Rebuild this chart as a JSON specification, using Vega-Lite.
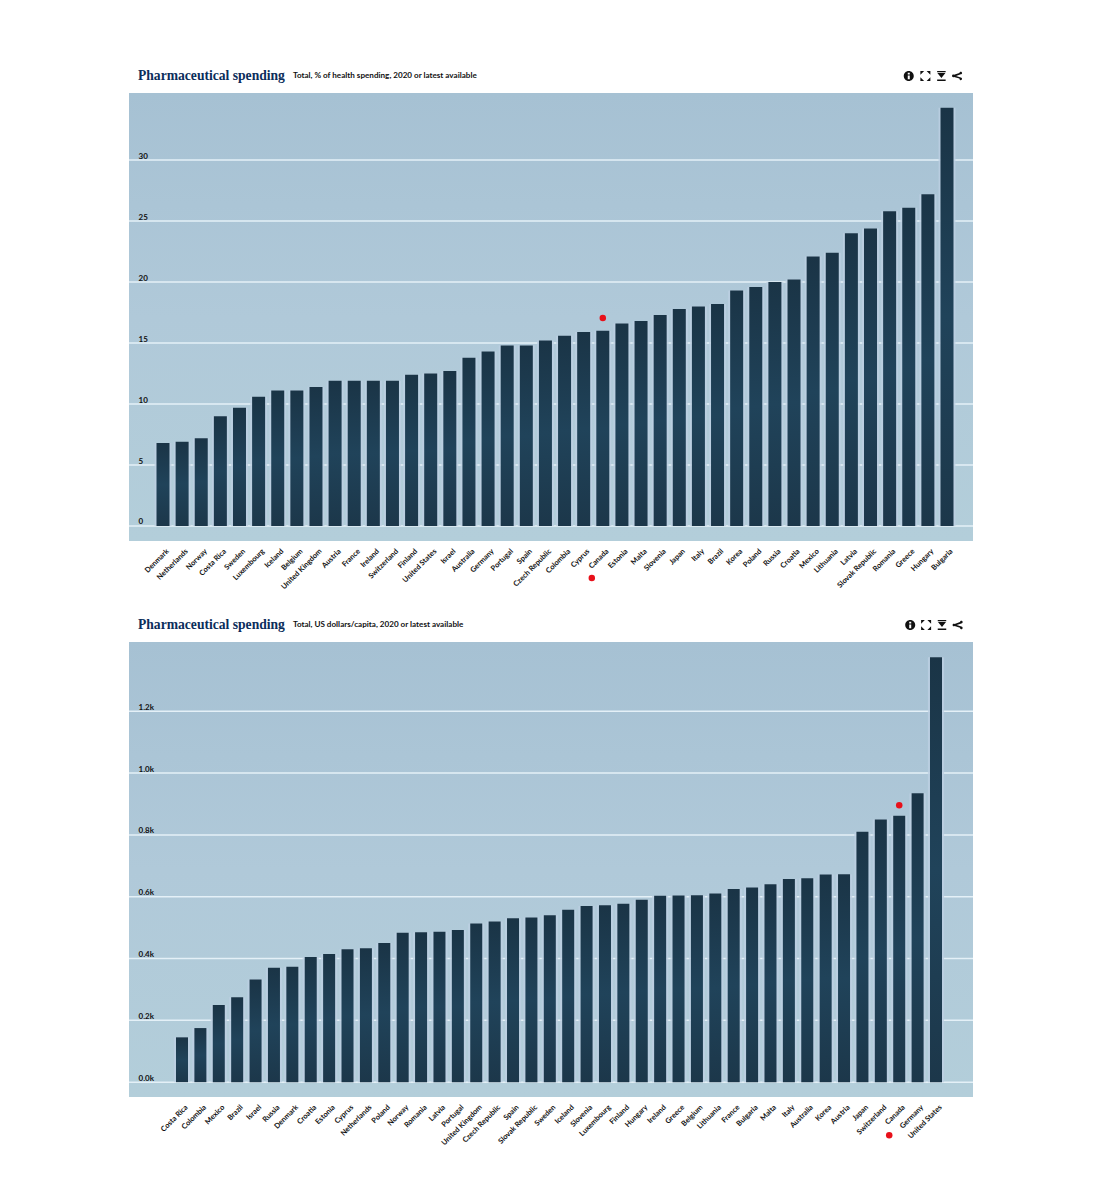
{
  "$schema": "https://vega.github.io/schema/vega-lite/v6.json",
  "padding": {"left": 128, "top": 69, "right": 0, "bottom": 0},
  "background": "white",
  "bounds": "flush",
  "spacing": 101,
  "config": {
    "view": {"stroke": null},
    "font": "Lato",
    "title": {"font": "Liberation Serif", "fontSize": 13.6, "fontWeight": "bold", "color": "#0b2d5b", "anchor": "start", "frame": "group", "dx": 9, "offset": -12},
    "axisX": {"domain": false, "ticks": false, "grid": false, "zindex": 1, "labelAngle": -45, "labelFont": "Lato", "labelFontWeight": 700, "labelFontSize": 7.4, "labelColor": "#111111", "labelPadding": 6, "labelOffset": 2, "labelOverlap": false, "labelFlush": false, "labelBound": false, "title": null},
    "axisY": {"domain": false, "ticks": false, "grid": false, "zindex": 1, "labelAlign": "left", "labelBaseline": "bottom", "labelPadding": -9, "labelFont": "Lato", "labelFontWeight": 700, "labelFontSize": 8, "labelColor": "#111111", "title": null}
  },
  "vconcat": [
    {
      "width": 844,
      "height": 448,
      "title": "Pharmaceutical spending",
      "view": {"fill": {"gradient": "linear", "x1": 0, "x2": 0, "y1": 0, "y2": 1, "stops": [{"offset": 0, "color": "#a6c1d3"}, {"offset": 0.5, "color": "#b0c9d9"}, {"offset": 1, "color": "#b3ceda"}]}},
      "data": {"values": [
        {"country": "Denmark", "value": 6.8}, {"country": "Netherlands", "value": 6.9}, {"country": "Norway", "value": 7.2},
        {"country": "Costa Rica", "value": 9.0}, {"country": "Sweden", "value": 9.7}, {"country": "Luxembourg", "value": 10.6},
        {"country": "Iceland", "value": 11.1}, {"country": "Belgium", "value": 11.1}, {"country": "United Kingdom", "value": 11.4},
        {"country": "Austria", "value": 11.9}, {"country": "France", "value": 11.9}, {"country": "Ireland", "value": 11.9},
        {"country": "Switzerland", "value": 11.9}, {"country": "Finland", "value": 12.4}, {"country": "United States", "value": 12.5},
        {"country": "Israel", "value": 12.7}, {"country": "Australia", "value": 13.8}, {"country": "Germany", "value": 14.3},
        {"country": "Portugal", "value": 14.8}, {"country": "Spain", "value": 14.8}, {"country": "Czech Republic", "value": 15.2},
        {"country": "Colombia", "value": 15.6}, {"country": "Cyprus", "value": 15.9}, {"country": "Canada", "value": 16.0},
        {"country": "Estonia", "value": 16.6}, {"country": "Malta", "value": 16.8}, {"country": "Slovenia", "value": 17.3},
        {"country": "Japan", "value": 17.8}, {"country": "Italy", "value": 18.0}, {"country": "Brazil", "value": 18.2},
        {"country": "Korea", "value": 19.3}, {"country": "Poland", "value": 19.6}, {"country": "Russia", "value": 20.0},
        {"country": "Croatia", "value": 20.2}, {"country": "Mexico", "value": 22.1}, {"country": "Lithuania", "value": 22.4},
        {"country": "Latvia", "value": 24.0}, {"country": "Slovak Republic", "value": 24.4}, {"country": "Romania", "value": 25.8},
        {"country": "Greece", "value": 26.1}, {"country": "Hungary", "value": 27.2}, {"country": "Bulgaria", "value": 34.3}
      ]},
      "encoding": {
        "x": {"field": "country", "type": "nominal", "axis": {},
          "scale": {"paddingInner": 0.32, "paddingOuter": 0, "range": [27.5, 824.5], "domain": ["Denmark", "Netherlands", "Norway", "Costa Rica", "Sweden", "Luxembourg", "Iceland", "Belgium", "United Kingdom", "Austria", "France", "Ireland", "Switzerland", "Finland", "United States", "Israel", "Australia", "Germany", "Portugal", "Spain", "Czech Republic", "Colombia", "Cyprus", "Canada", "Estonia", "Malta", "Slovenia", "Japan", "Italy", "Brazil", "Korea", "Poland", "Russia", "Croatia", "Mexico", "Lithuania", "Latvia", "Slovak Republic", "Romania", "Greece", "Hungary", "Bulgaria"]}},
        "y": {"field": "value", "type": "quantitative", "axis": {"values": [0, 5, 10, 15, 20, 25, 30]}, "scale": {"domain": [-1.23, 35.5], "nice": false, "zero": false}}
      },
      "layer": [
        {"data": {"values": [{"value": 0}, {"value": 5}, {"value": 10}, {"value": 15}, {"value": 20}, {"value": 25}, {"value": 30}]},
          "mark": {"type": "rule", "color": "#e4f0f7", "strokeWidth": 1.5},
          "encoding": {"x": null}},
        {"mark": {"type": "bar", "color": "#bdd0e2", "opacity": 0.8, "width": {"band": 1.3}}},
        {"mark": {"type": "bar", "color": {"gradient": "linear", "x1": 0, "x2": 0, "y1": 0, "y2": 1, "stops": [{"offset": 0, "color": "#1a3446"}, {"offset": 0.5, "color": "#20435a"}, {"offset": 1, "color": "#1c374a"}]}}},
        {"data": {"values": [{"country": "Canada", "value": 17.05}]}, "mark": {"type": "point", "filled": true, "color": "#e8101a", "opacity": 1, "size": 42}},
        {"data": {"values": [{"country": "Canada", "value": -4.26}]}, "mark": {"type": "point", "filled": true, "color": "#e8101a", "opacity": 1, "size": 42, "xOffset": -11}},
        {"data": {"values": [{"country": "Denmark", "value": 36.9, "label": "Total, % of health spending, 2020 or latest available"}]},
          "mark": {"type": "text", "align": "left", "baseline": "middle", "font": "Lato", "fontWeight": 700, "fontSize": 8.1, "color": "#111111", "xOffset": 130},
          "encoding": {"text": {"field": "label"}}},
        {"data": {"values": [{"country": "Greece", "value": 36.9}]}, "mark": {"type": "point", "filled": true, "color": "#111111", "opacity": 1, "size": 100, "shape": "M0,-1A1,1,0,1,1,0,1A1,1,0,1,1,0,-1Z M-0.2,-0.65L-0.2,-0.3L0.2,-0.3L0.2,-0.65Z M-0.2,-0.1L-0.2,0.65L0.2,0.65L0.2,-0.1Z"}},
        {"data": {"values": [{"country": "Hungary", "value": 36.9}]}, "mark": {"type": "point", "filled": true, "color": "#111111", "opacity": 1, "size": 100, "xOffset": -2.5, "shape": "M-1,-1L-0.25,-1L-1,-0.25Z M1,-1L1,-0.25L0.25,-1Z M-1,1L-1,0.25L-0.25,1Z M1,1L0.25,1L1,0.25Z"}},
        {"data": {"values": [{"country": "Bulgaria", "value": 36.9}]}, "mark": {"type": "point", "filled": true, "color": "#111111", "opacity": 1, "size": 100, "xOffset": -5.6, "shape": "M-0.85,-1L0.85,-1L0.85,-0.75L-0.85,-0.75Z M-0.8,-0.6L0.8,-0.6L0,0.4Z M-0.85,0.7L0.85,0.7L0.85,1L-0.85,1Z"}},
        {"data": {"values": [{"country": "Bulgaria", "value": 36.9}]}, "mark": {"type": "point", "filled": true, "color": "#111111", "opacity": 1, "size": 80, "xOffset": 10.4, "shape": "M0.75,-0.95A0.3,0.3,0,1,1,0.75,-0.35L-0.3,0L0.75,0.35A0.3,0.3,0,1,1,0.45,0.6L-0.75,0.25A0.3,0.3,0,1,1,-0.75,-0.25L0.45,-0.65A0.3,0.3,0,0,1,0.75,-0.95Z"}}
      ]
    },
    {
      "width": 844,
      "height": 455,
      "title": "Pharmaceutical spending",
      "view": {"fill": {"gradient": "linear", "x1": 0, "x2": 0, "y1": 0, "y2": 1, "stops": [{"offset": 0, "color": "#a6c1d3"}, {"offset": 0.5, "color": "#b0c9d9"}, {"offset": 1, "color": "#b3ceda"}]}},
      "data": {"values": [
        {"country": "Costa Rica", "value": 145}, {"country": "Colombia", "value": 175}, {"country": "Mexico", "value": 250},
        {"country": "Brazil", "value": 275}, {"country": "Israel", "value": 332}, {"country": "Russia", "value": 370},
        {"country": "Denmark", "value": 373}, {"country": "Croatia", "value": 405}, {"country": "Estonia", "value": 415},
        {"country": "Cyprus", "value": 430}, {"country": "Netherlands", "value": 433}, {"country": "Poland", "value": 450},
        {"country": "Norway", "value": 483}, {"country": "Romania", "value": 485}, {"country": "Latvia", "value": 487},
        {"country": "Portugal", "value": 492}, {"country": "United Kingdom", "value": 513}, {"country": "Czech Republic", "value": 520},
        {"country": "Spain", "value": 530}, {"country": "Slovak Republic", "value": 533}, {"country": "Sweden", "value": 540},
        {"country": "Iceland", "value": 558}, {"country": "Slovenia", "value": 570}, {"country": "Luxembourg", "value": 572},
        {"country": "Finland", "value": 577}, {"country": "Hungary", "value": 590}, {"country": "Ireland", "value": 603},
        {"country": "Greece", "value": 604}, {"country": "Belgium", "value": 605}, {"country": "Lithuania", "value": 610},
        {"country": "France", "value": 625}, {"country": "Bulgaria", "value": 630}, {"country": "Malta", "value": 640},
        {"country": "Italy", "value": 657}, {"country": "Australia", "value": 660}, {"country": "Korea", "value": 672},
        {"country": "Austria", "value": 673}, {"country": "Japan", "value": 810}, {"country": "Switzerland", "value": 850},
        {"country": "Canada", "value": 862}, {"country": "Germany", "value": 935}, {"country": "United States", "value": 1375}
      ]},
      "encoding": {
        "x": {"field": "country", "type": "nominal", "axis": {},
          "scale": {"paddingInner": 0.347, "paddingOuter": 0, "range": [47, 813], "domain": ["Costa Rica", "Colombia", "Mexico", "Brazil", "Israel", "Russia", "Denmark", "Croatia", "Estonia", "Cyprus", "Netherlands", "Poland", "Norway", "Romania", "Latvia", "Portugal", "United Kingdom", "Czech Republic", "Spain", "Slovak Republic", "Sweden", "Iceland", "Slovenia", "Luxembourg", "Finland", "Hungary", "Ireland", "Greece", "Belgium", "Lithuania", "France", "Bulgaria", "Malta", "Italy", "Australia", "Korea", "Austria", "Japan", "Switzerland", "Canada", "Germany", "United States"]}},
        "y": {"field": "value", "type": "quantitative", "axis": {"values": [0, 200, 400, 600, 800, 1000, 1200], "labelExpr": "format(datum.value / 1000, '.1f') + 'k'"}, "scale": {"domain": [-48, 1424], "nice": false, "zero": false}}
      },
      "layer": [
        {"data": {"values": [{"value": 0}, {"value": 200}, {"value": 400}, {"value": 600}, {"value": 800}, {"value": 1000}, {"value": 1200}]},
          "mark": {"type": "rule", "color": "#e4f0f7", "strokeWidth": 1.5},
          "encoding": {"x": null}},
        {"mark": {"type": "bar", "color": "#bdd0e2", "opacity": 0.8, "width": {"band": 1.35}}},
        {"mark": {"type": "bar", "color": {"gradient": "linear", "x1": 0, "x2": 0, "y1": 0, "y2": 1, "stops": [{"offset": 0, "color": "#1a3446"}, {"offset": 0.5, "color": "#20435a"}, {"offset": 1, "color": "#1c374a"}]}}},
        {"data": {"values": [{"country": "Canada", "value": 896}]}, "mark": {"type": "point", "filled": true, "color": "#e8101a", "opacity": 1, "size": 42}},
        {"data": {"values": [{"country": "Canada", "value": -172}]}, "mark": {"type": "point", "filled": true, "color": "#e8101a", "opacity": 1, "size": 42, "xOffset": -10}},
        {"data": {"values": [{"country": "Costa Rica", "value": 1479, "label": "Total, US dollars/capita, 2020 or latest available"}]},
          "mark": {"type": "text", "align": "left", "baseline": "middle", "font": "Lato", "fontWeight": 700, "fontSize": 8.1, "color": "#111111", "xOffset": 111},
          "encoding": {"text": {"field": "label"}}},
        {"data": {"values": [{"country": "Canada", "value": 1479}]}, "mark": {"type": "point", "filled": true, "color": "#111111", "opacity": 1, "size": 100, "xOffset": 11, "shape": "M0,-1A1,1,0,1,1,0,1A1,1,0,1,1,0,-1Z M-0.2,-0.65L-0.2,-0.3L0.2,-0.3L0.2,-0.65Z M-0.2,-0.1L-0.2,0.65L0.2,0.65L0.2,-0.1Z"}},
        {"data": {"values": [{"country": "Germany", "value": 1479}]}, "mark": {"type": "point", "filled": true, "color": "#111111", "opacity": 1, "size": 100, "xOffset": 8.5, "shape": "M-1,-1L-0.25,-1L-1,-0.25Z M1,-1L1,-0.25L0.25,-1Z M-1,1L-1,0.25L-0.25,1Z M1,1L0.25,1L1,0.25Z"}},
        {"data": {"values": [{"country": "United States", "value": 1479}]}, "mark": {"type": "point", "filled": true, "color": "#111111", "opacity": 1, "size": 100, "xOffset": 6, "shape": "M-0.85,-1L0.85,-1L0.85,-0.75L-0.85,-0.75Z M-0.8,-0.6L0.8,-0.6L0,0.4Z M-0.85,0.7L0.85,0.7L0.85,1L-0.85,1Z"}},
        {"data": {"values": [{"country": "United States", "value": 1479}]}, "mark": {"type": "point", "filled": true, "color": "#111111", "opacity": 1, "size": 80, "xOffset": 22, "shape": "M0.75,-0.95A0.3,0.3,0,1,1,0.75,-0.35L-0.3,0L0.75,0.35A0.3,0.3,0,1,1,0.45,0.6L-0.75,0.25A0.3,0.3,0,1,1,-0.75,-0.25L0.45,-0.65A0.3,0.3,0,0,1,0.75,-0.95Z"}}
      ]
    }
  ]
}
